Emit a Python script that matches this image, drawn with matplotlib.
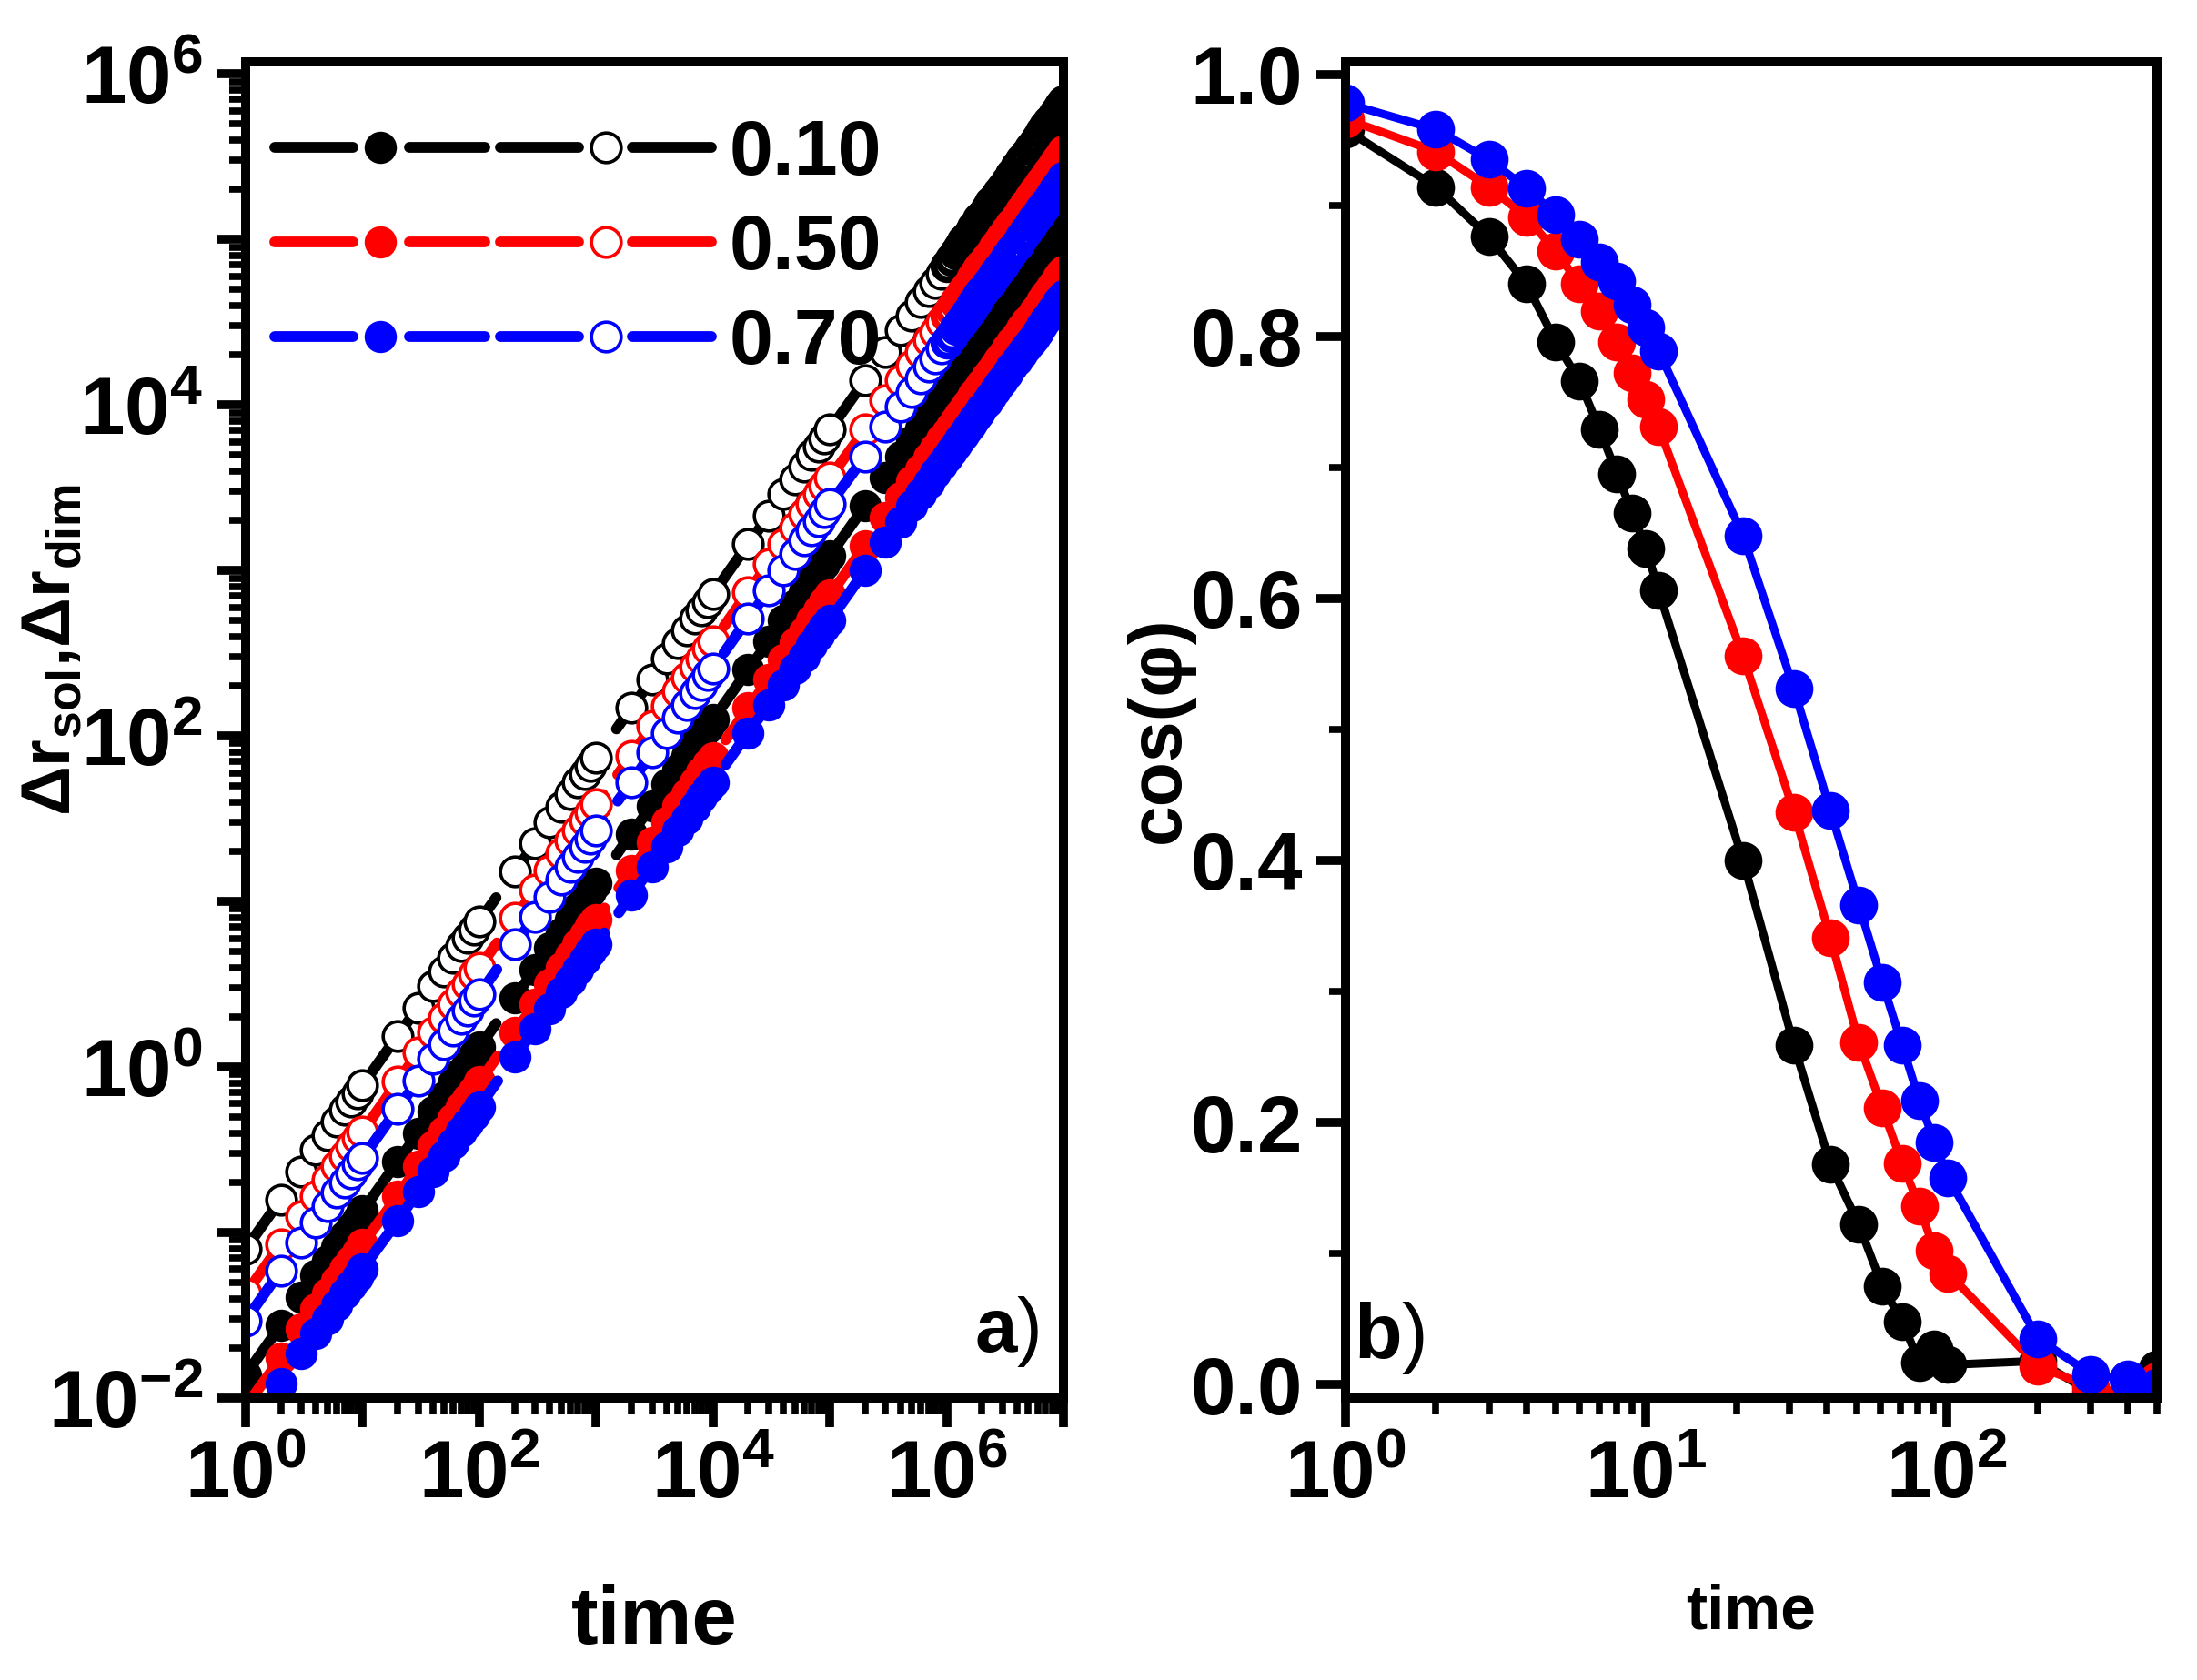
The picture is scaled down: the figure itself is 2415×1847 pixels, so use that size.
import numpy as np
import matplotlib
matplotlib.use("Agg")
import matplotlib.pyplot as plt
from matplotlib.lines import Line2D
from matplotlib.legend_handler import HandlerBase
from matplotlib.ticker import (LogLocator, FuncFormatter, NullFormatter,
                               MultipleLocator, FormatStrFormatter)

plt.rcParams['font.family'] = ['Liberation Sans', 'DejaVu Sans']
plt.rcParams['font.weight'] = 'bold'
plt.rcParams['axes.labelweight'] = 'bold'
plt.rcParams['mathtext.fontset'] = 'custom'
plt.rcParams['mathtext.rm'] = 'Liberation Sans:bold'
plt.rcParams['mathtext.bf'] = 'Liberation Sans:bold'
plt.rcParams['mathtext.sf'] = 'Liberation Sans:bold'
plt.rcParams['mathtext.it'] = 'Liberation Sans:bold'

# ==========================================
# DATA  (panel a: log10 of displacement, panel b: cos(phi))
# ==========================================
concentrations = ['0.10', '0.50', '0.70']
colors = ['black', 'red', 'blue']

t_a = [1, 2, 3, 4, 5, 6, 7, 8, 9,
       10, 20, 30, 40, 50, 60, 70, 80, 90,
       100, 200, 300, 400, 500, 600, 700, 800, 900,
       1e3, 2e3, 3e3, 4e3, 5e3, 6e3, 7e3, 8e3, 9e3,
       1e4, 2e4, 3e4, 4e4, 5e4, 6e4, 7e4, 8e4, 9e4,
       1e5, 2e5, 3e5, 4e5, 5e5, 6e5, 7e5, 8e5, 9e5,
       1.0e6, 1.1e6, 1.2e6, 1.3e6, 1.4e6, 1.5e6, 1.6e6, 1.7e6, 1.8e6, 1.9e6,
       2.0e6, 2.2e6, 2.4e6, 2.6e6, 2.8e6, 3.0e6, 3.3e6, 3.6e6, 4.0e6, 4.4e6,
       4.8e6, 5.2e6, 5.6e6, 6.0e6, 6.5e6, 7.0e6, 7.5e6, 8.0e6, 8.5e6, 9.0e6,
       9.5e6, 1.0e7]

# filled symbols (dim) and open symbols (sol), log10 values
filled_010_log = [-1.86, -1.56, -1.39, -1.26, -1.17, -1.09, -1.02, -0.97, -0.92,
                  -0.87, -0.57, -0.40, -0.27, -0.18, -0.10, -0.03, 0.02, 0.07,
                  0.12, 0.42, 0.59, 0.72, 0.81, 0.89, 0.96, 1.01, 1.06,
                  1.11, 1.41, 1.58, 1.71, 1.80, 1.88, 1.95, 2.00, 2.05,
                  2.10, 2.40, 2.57, 2.70, 2.79, 2.87, 2.94, 2.99, 3.04,
                  3.09, 3.39, 3.56, 3.69, 3.78, 3.86, 3.93, 3.98, 4.03,
                  4.08, 4.12, 4.16, 4.19, 4.23, 4.25, 4.28, 4.31, 4.33, 4.36,
                  4.38, 4.42, 4.46, 4.49, 4.52, 4.55, 4.59, 4.63, 4.68, 4.72,
                  4.75, 4.79, 4.82, 4.85, 4.89, 4.92, 4.95, 4.97, 5.00, 5.02,
                  5.05, 5.07]
open_010_log = [-1.10, -0.80, -0.63, -0.50, -0.41, -0.33, -0.26, -0.21, -0.16,
                -0.11, 0.19, 0.36, 0.49, 0.58, 0.66, 0.73, 0.78, 0.83,
                0.88, 1.18, 1.35, 1.48, 1.57, 1.65, 1.72, 1.77, 1.82,
                1.87, 2.17, 2.34, 2.47, 2.56, 2.64, 2.71, 2.76, 2.81,
                2.86, 3.16, 3.33, 3.46, 3.55, 3.63, 3.70, 3.75, 3.80,
                3.85, 4.15, 4.32, 4.45, 4.54, 4.62, 4.69, 4.74, 4.79,
                4.84, 4.88, 4.92, 4.95, 4.99, 5.01, 5.04, 5.07, 5.09, 5.12,
                5.14, 5.18, 5.22, 5.25, 5.28, 5.31, 5.35, 5.39, 5.44, 5.48,
                5.51, 5.55, 5.58, 5.61, 5.65, 5.68, 5.71, 5.73, 5.76, 5.78,
                5.81, 5.83]
filled_050_log = [-2.05, -1.76, -1.58, -1.46, -1.37, -1.29, -1.22, -1.17, -1.12,
                  -1.07, -0.78, -0.60, -0.48, -0.39, -0.31, -0.24, -0.19, -0.14,
                  -0.09, 0.21, 0.38, 0.50, 0.60, 0.67, 0.74, 0.80, 0.85,
                  0.89, 1.19, 1.36, 1.48, 1.58, 1.65, 1.72, 1.78, 1.83,
                  1.87, 2.17, 2.34, 2.46, 2.56, 2.63, 2.70, 2.76, 2.81,
                  2.85, 3.15, 3.32, 3.44, 3.54, 3.61, 3.68, 3.74, 3.79,
                  3.83, 3.87, 3.91, 3.94, 3.97, 4.00, 4.03, 4.06, 4.08, 4.10,
                  4.13, 4.17, 4.20, 4.24, 4.27, 4.30, 4.34, 4.38, 4.42, 4.46,
                  4.50, 4.53, 4.56, 4.59, 4.63, 4.66, 4.69, 4.72, 4.74, 4.77,
                  4.79, 4.81]
open_050_log = [-1.37, -1.07, -0.90, -0.78, -0.68, -0.60, -0.54, -0.48, -0.43,
                -0.39, -0.09, 0.09, 0.21, 0.30, 0.38, 0.45, 0.50, 0.56,
                0.60, 0.90, 1.07, 1.19, 1.29, 1.37, 1.43, 1.49, 1.54,
                1.59, 1.88, 2.06, 2.18, 2.27, 2.35, 2.42, 2.47, 2.53,
                2.57, 2.87, 3.04, 3.16, 3.26, 3.34, 3.40, 3.46, 3.51,
                3.56, 3.85, 4.03, 4.15, 4.24, 4.32, 4.39, 4.44, 4.50,
                4.54, 4.58, 4.62, 4.65, 4.68, 4.71, 4.74, 4.77, 4.79, 4.82,
                4.84, 4.88, 4.91, 4.95, 4.98, 5.01, 5.05, 5.09, 5.13, 5.17,
                5.21, 5.25, 5.28, 5.31, 5.34, 5.37, 5.40, 5.43, 5.46, 5.48,
                5.50, 5.53]
filled_070_log = [-2.20, -1.91, -1.73, -1.61, -1.52, -1.44, -1.37, -1.32, -1.27,
                  -1.22, -0.93, -0.75, -0.63, -0.54, -0.46, -0.39, -0.34, -0.29,
                  -0.24, 0.06, 0.23, 0.35, 0.45, 0.52, 0.59, 0.65, 0.70,
                  0.74, 1.04, 1.21, 1.33, 1.43, 1.50, 1.57, 1.63, 1.68,
                  1.72, 2.02, 2.19, 2.31, 2.41, 2.48, 2.55, 2.61, 2.66,
                  2.70, 3.00, 3.17, 3.29, 3.39, 3.46, 3.53, 3.59, 3.64,
                  3.68, 3.72, 3.76, 3.79, 3.82, 3.85, 3.88, 3.91, 3.93, 3.95,
                  3.98, 4.02, 4.05, 4.09, 4.12, 4.15, 4.19, 4.23, 4.27, 4.31,
                  4.35, 4.38, 4.41, 4.44, 4.48, 4.51, 4.54, 4.57, 4.59, 4.62,
                  4.64, 4.66]
open_070_log = [-1.53, -1.23, -1.06, -0.94, -0.84, -0.76, -0.70, -0.64, -0.59,
                -0.55, -0.25, -0.08, 0.05, 0.14, 0.22, 0.29, 0.34, 0.40,
                0.44, 0.74, 0.91, 1.03, 1.13, 1.21, 1.27, 1.33, 1.38,
                1.43, 1.72, 1.90, 2.02, 2.11, 2.19, 2.26, 2.31, 2.37,
                2.41, 2.71, 2.88, 3.00, 3.10, 3.18, 3.24, 3.30, 3.35,
                3.40, 3.69, 3.87, 3.99, 4.08, 4.16, 4.23, 4.28, 4.34,
                4.38, 4.42, 4.46, 4.49, 4.52, 4.55, 4.58, 4.61, 4.63, 4.66,
                4.68, 4.72, 4.75, 4.79, 4.82, 4.85, 4.89, 4.93, 4.97, 5.01,
                5.05, 5.09, 5.12, 5.15, 5.18, 5.21, 5.24, 5.27, 5.30, 5.32,
                5.34, 5.37]

t_b = [1, 2, 3, 4, 5, 6, 7, 8, 9, 10, 11, 21, 31, 41, 51, 61, 71, 81, 91,
       101, 201, 301, 401, 501]
cos_010 = [0.958, 0.914, 0.876, 0.840, 0.796, 0.766, 0.729, 0.695, 0.665,
           0.638, 0.606, 0.400, 0.259, 0.168, 0.122, 0.075, 0.048, 0.017,
           0.027, 0.015, 0.018, -0.006, -0.008, 0.012]
cos_050 = [0.966, 0.941, 0.914, 0.891, 0.865, 0.840, 0.819, 0.796, 0.772,
           0.752, 0.731, 0.556, 0.437, 0.341, 0.261, 0.211, 0.169, 0.136,
           0.102, 0.085, 0.014, -0.002, -0.007, 0.003]
cos_070 = [0.978, 0.958, 0.935, 0.913, 0.893, 0.874, 0.857, 0.842, 0.824,
           0.807, 0.789, 0.648, 0.531, 0.438, 0.366, 0.307, 0.259, 0.217,
           0.185, 0.158, 0.035, 0.008, 0.004, -0.002]

filled_logs = [filled_010_log, filled_050_log, filled_070_log]
open_logs = [open_010_log, open_050_log, open_070_log]
cos_series = [cos_010, cos_050, cos_070]

# ==========================================
# STYLE
# ==========================================
LW_A = 8.5
DASH = (6.2, 2.3)
MS_FILL = 25.5
MS_OPEN = 23.5
MEW_OPEN = 2.6
TICK_FS = 64


class PairHandler(HandlerBase):
    """legend entry: dashed line with a filled and an open circle"""
    def create_artists(self, legend, orig_handle, xdescent, ydescent,
                       width, height, fontsize, trans):
        c = orig_handle.get_color()
        y = height / 2.0 - ydescent
        arts = []
        for a, b in [(0.0, 0.178), (0.307, 0.48), (0.514, 0.693), (0.816, 0.996)]:
            seg = Line2D([a * width - xdescent, b * width - xdescent], [y, y],
                         color=c, lw=LW_A, solid_capstyle='round')
            arts.append(seg)
        arts.append(Line2D([0.24 * width - xdescent], [y], ls='none', marker='o',
                           ms=MS_FILL, mfc=c, mec=c, mew=0))
        arts.append(Line2D([0.755 * width - xdescent], [y], ls='none', marker='o',
                           ms=MS_OPEN, mfc='white', mec=c, mew=MEW_OPEN))
        for a in arts:
            a.set_transform(trans)
        return arts


def pow_label(v, pos, only_even=False):
    e = int(round(np.log10(v)))
    if only_even and e % 2:
        return ''
    return r'$\mathbf{10^{%d}}$' % e


fig = plt.figure(figsize=(24.15, 18.47), dpi=100)
ax1 = fig.add_axes([0.1118, 0.1678, 0.3723, 0.7953])
ax2 = fig.add_axes([0.6124, 0.1678, 0.3694, 0.7953])

# ==========================================
# PANEL a
# ==========================================
t_arr = np.array(t_a)
tail = t_arr >= 1e6
for c, fl, ol in zip(colors, filled_logs, open_logs):
    yf = 10 ** np.array(fl)
    yo = 10 ** np.array(ol)
    ax1.plot(t_arr, yf, color=c, lw=LW_A, dashes=DASH, dash_capstyle='round')
    ax1.plot(t_arr, yf, ls='none', marker='o', ms=MS_FILL, mfc=c, mec=c, mew=0)
    ax1.plot(t_arr, yo, color=c, lw=LW_A, dashes=DASH, dash_capstyle='round')
    ax1.plot(t_arr[~tail], yo[~tail], ls='none', marker='o', ms=MS_OPEN,
             mfc='white', mec=c, mew=MEW_OPEN)
    # dense late-time points merge into a solid band
    ax1.plot(t_arr[tail], yo[tail], ls='none', marker='o', ms=MS_OPEN - 2,
             mfc='none', mec=c, mew=5.5)

ax1.set_xscale('log')
ax1.set_yscale('log')
ax1.set_xlim(1, 1e7)
ax1.set_ylim(1e-2, 1.18e6)
for axis in (ax1.xaxis, ax1.yaxis):
    axis.set_major_locator(LogLocator(base=10, numticks=30))
    axis.set_minor_locator(LogLocator(base=10, subs=np.arange(2, 10), numticks=100))
    axis.set_minor_formatter(NullFormatter())
    axis.set_major_formatter(FuncFormatter(lambda v, p: pow_label(v, p, True)))

ax1.set_xlabel('time', fontsize=64, labelpad=55)
ax1.set_ylabel(r'$\mathbf{\Delta r_{sol}{,}\Delta r_{dim}}$', fontsize=55)
ax1.yaxis.set_label_coords(-0.196, 0.56)

proxies = [Line2D([], [], color=c) for c in colors]
ax1.legend(proxies, concentrations, handler_map={Line2D: PairHandler()},
           loc='upper left', bbox_to_anchor=(0.0356, 0.958), frameon=False,
           borderpad=0, borderaxespad=0, handlelength=5.6, handletextpad=0.2,
           labelspacing=0.28, fontsize=62)

ax1.text(0.970, 0.035, r'$\mathbf{a}$)', transform=ax1.transAxes, ha='right',
         va='baseline', fontsize=60, fontweight='normal')

# ==========================================
# PANEL b
# ==========================================
for c, cs in zip(colors, cos_series):
    ax2.plot(t_b, cs, color=c, lw=6.5, marker='o', ms=30, mfc=c, mec=c, mew=0)

ax2.set_xscale('log')
ax2.set_xlim(1, 500)
ax2.set_ylim(-0.0104, 1.0094)
ax2.xaxis.set_major_locator(LogLocator(base=10, numticks=10))
ax2.xaxis.set_minor_locator(LogLocator(base=10, subs=np.arange(2, 10), numticks=20))
ax2.xaxis.set_minor_formatter(NullFormatter())
ax2.xaxis.set_major_formatter(FuncFormatter(pow_label))
ax2.yaxis.set_major_locator(MultipleLocator(0.2))
ax2.yaxis.set_minor_locator(MultipleLocator(0.1))
ax2.yaxis.set_major_formatter(FormatStrFormatter('%.1f'))

ax2.set_xlabel('time', fontsize=50, labelpad=54)
ax2.set_ylabel('cos(φ)', fontsize=58)
ax2.yaxis.set_label_coords(-0.186, 0.5)

ax2.text(0.010, 0.030, r'$\mathbf{b}$)', transform=ax2.transAxes, ha='left',
         va='baseline', fontsize=62, fontweight='normal')

# ==========================================
# AXES STYLE
# ==========================================
for ax in (ax1, ax2):
    for s in ax.spines.values():
        s.set_linewidth(7.2)
    ax.tick_params(which='major', direction='out', length=23, width=7,
                   labelsize=TICK_FS, top=False, right=False)
    ax.tick_params(which='minor', direction='out', length=13, width=5.5,
                   top=False, right=False)
    ax.tick_params(axis='x', which='major', pad=9)
    ax.tick_params(axis='y', which='major', pad=11)

fig.savefig('out.png', dpi=100)
